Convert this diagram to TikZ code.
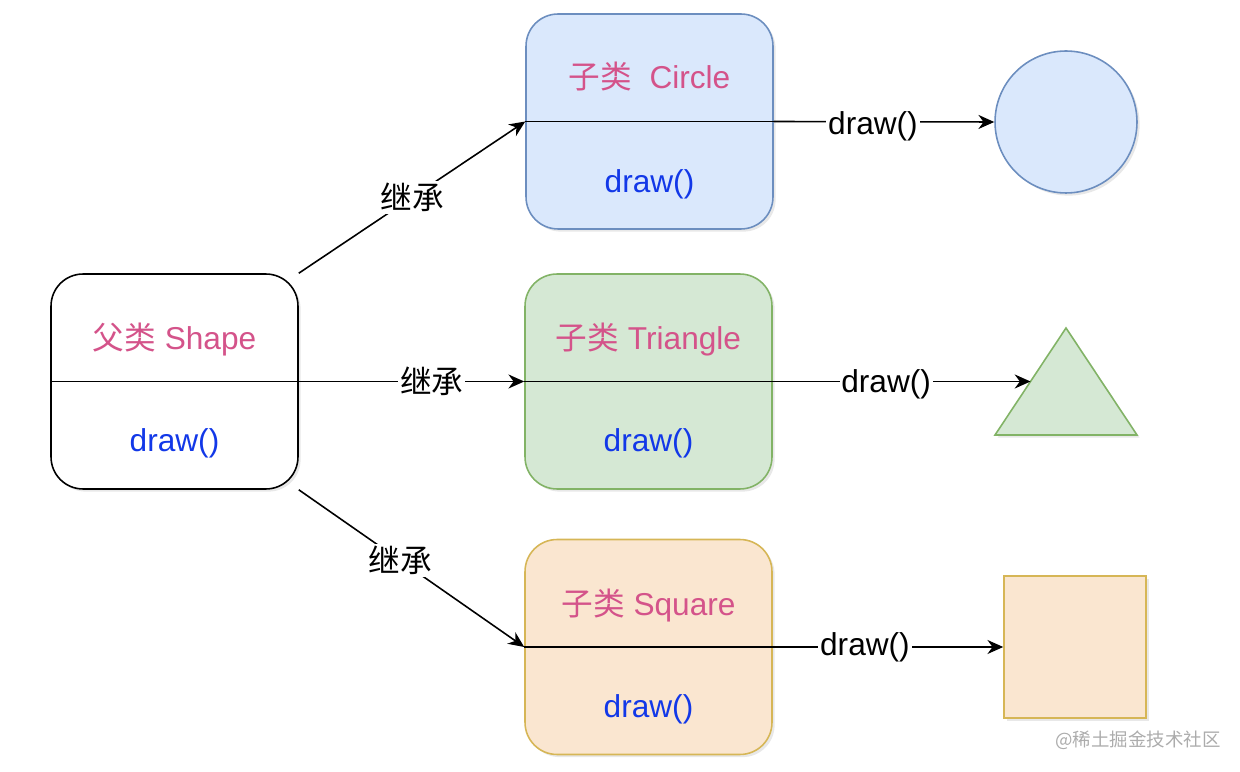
\documentclass[tikz,border=0pt]{standalone}
\usepackage{fontspec}
\setmainfont{Liberation Sans}
\newfontfamily\cjk{Noto Sans CJK SC}
\usepackage{xcolor}
\definecolor{namepink}{HTML}{D4538A}
\definecolor{methodblue}{HTML}{1238E8}
\definecolor{circfill}{HTML}{DAE8FC}
\definecolor{circline}{HTML}{6C8EBF}
\definecolor{trifill}{HTML}{D5E8D4}
\definecolor{triline}{HTML}{82B366}
\definecolor{sqfill}{HTML}{FAE6D0}
\definecolor{sqline}{HTML}{D6B656}
\usetikzlibrary{arrows.meta, calc, shadows}
\newcommand{\inh}{{\cjk 继承}}

\begin{document}
\begin{tikzpicture}[
    x=0.02cm, y=0.02cm,
    cls/.style={draw, rounded corners=0.64cm, minimum width=4.94cm,
                minimum height=4.3cm, line width=0.9pt,
                drop shadow={opacity=0.18, shadow xshift=1.5pt, shadow yshift=-1.5pt}},
    clsname/.style={anchor=base, text=namepink, font=\fontsize{18}{22}\selectfont},
    method/.style={anchor=base, text=methodblue, font=\fontsize{18}{22}\selectfont},
    lbl/.style={fill=white, inner sep=1pt, font=\fontsize{18}{22}\selectfont},
    figure/.style={line width=0.9pt,
                   drop shadow={opacity=0.18, shadow xshift=1.5pt, shadow yshift=-1.5pt}},
    >={Stealth[length=9pt, width=8pt]}, line width=0.9pt
  ]
    \useasboundingbox (0,0) rectangle (1240,771);

    % class boxes
    \node[cls, fill=white] (shape) at (174.5,389.5) {};
    \node[cls, draw=circline, fill=circfill] (circlecls) at (649.5,649.5) {};
    \node[cls, draw=triline, fill=trifill] (tricls) at (648.5,389.5) {};
    \node[cls, draw=sqline, fill=sqfill] (sqcls) at (648.5,124) {};

    \node[clsname] (shapename) at ($(shape.center)+(0,32)$) {{\cjk 父类} Shape};
    \node[method] (shapedraw) at ($(shape.center)+(0,-70)$) {draw()};
    \node[clsname] (circlename) at ($(circlecls.center)+(0,33)$) {{\cjk 子类}~~Circle};
    \node[method] (circledraw) at ($(circlecls.center)+(0,-71)$) {draw()};
    \node[clsname] (triname) at ($(tricls.center)+(0,32)$) {{\cjk 子类} Triangle};
    \node[method] (tridraw) at ($(tricls.center)+(0,-70)$) {draw()};
    \node[clsname] (sqname) at ($(sqcls.center)+(0,32)$) {{\cjk 子类} Square};
    \node[method] (sqdraw) at ($(sqcls.center)+(0,-70)$) {draw()};

    \foreach \c in {shape, circlecls, tricls, sqcls}
      \draw (\c.west) -- (\c.east);

    % drawn figures
    \node[figure, circle, draw=circline, fill=circfill, minimum size=2.84cm] (circ) at (1066,649) {};
    \coordinate (triA) at (995,336);
    \coordinate (triB) at (1066,443);
    \coordinate (triC) at (1137,336);
    \draw[figure, draw=triline, fill=trifill] (triA) -- (triB) -- (triC) -- cycle;
    \coordinate (tri) at ($(triA)!0.5!(triB)$);
    \node[figure, draw=sqline, fill=sqfill, minimum size=2.84cm] (sq) at (1075,124) {};

    % inheritance
    \draw[->] (shape.north east) -- node[lbl, pos=0.5]{\inh} (circlecls.west);
    \draw[->] (shape.east) -- node[lbl, pos=0.59]{\inh} (tricls.west);
    \draw[->] (shape.south east) -- node[lbl, pos=0.45]{\inh} (sqcls.west);

    % draw() calls
    \draw[->] (circlecls.east) -- node[lbl, pos=0.45, yshift=-0.1cm]{draw()} (circ.west);
    \draw[->] (tricls.east) -- node[lbl, pos=0.44, yshift=-0.06cm]{draw()} (tri);
    \draw[->] (sqcls.east) -- node[lbl, pos=0.40]{draw()} (sq.west);

    \node[text=gray!65, font=\cjk\fontsize{10.5}{13}\selectfont] (mark) at (1138,31) {@稀土掘金技术社区};
  \end{tikzpicture}
\end{document}
